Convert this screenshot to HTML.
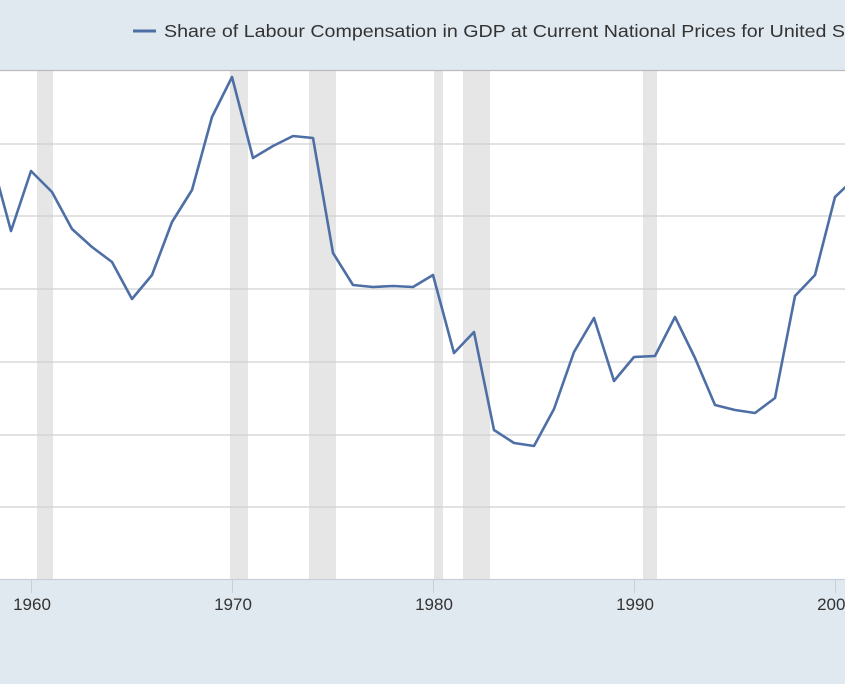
<!DOCTYPE html>
<html><head><style>html,body{margin:0;padding:0;background:#e1e9f0;overflow:hidden}</style></head>
<body>
<svg width="845" height="684" xmlns="http://www.w3.org/2000/svg" style="display:block;font-family:'Liberation Sans',sans-serif">
<rect width="845" height="684" fill="#e1e9f0"/>
<rect x="0" y="70" width="845" height="509" fill="#fff"/>
<g fill="#e6e6e6">
<rect x="37" y="70" width="16" height="509"/>
<rect x="230" y="70" width="18" height="509"/>
<rect x="309" y="70" width="27" height="509"/>
<rect x="434" y="70" width="9" height="509"/>
<rect x="463" y="70" width="27" height="509"/>
<rect x="643" y="70" width="14" height="509"/>
</g>
<g stroke="#d0d0d0" stroke-width="1.3">
<line x1="0" x2="845" y1="70.5" y2="70.5" stroke="#bbb"/>
<line x1="0" x2="845" y1="144" y2="144"/>
<line x1="0" x2="845" y1="216" y2="216"/>
<line x1="0" x2="845" y1="289" y2="289"/>
<line x1="0" x2="845" y1="362" y2="362"/>
<line x1="0" x2="845" y1="435" y2="435"/>
<line x1="0" x2="845" y1="507" y2="507"/>
<line x1="0" x2="845" y1="579.5" y2="579.5" stroke="#c8cfd8"/>
</g>
<g stroke="#c8cfd8" stroke-width="1">
<line x1="31.5" x2="31.5" y1="580" y2="593"/>
<line x1="232.5" x2="232.5" y1="580" y2="593"/>
<line x1="433.5" x2="433.5" y1="580" y2="593"/>
<line x1="634.5" x2="634.5" y1="580" y2="593"/>
<line x1="835.5" x2="835.5" y1="580" y2="593"/>
</g>
<g fill="#333" font-size="17" text-anchor="middle">
<text x="32" y="610">1960</text>
<text x="233" y="610">1970</text>
<text x="434" y="610">1980</text>
<text x="635" y="610">1990</text>
<text x="836" y="610">2000</text>
</g>
<polyline fill="none" stroke="#4e6fa5" stroke-width="2.6" stroke-linejoin="round" points="-9,157 11,231 31,171 52,192 72,229 92,247 112,262 132,299 152,275 172,222 192,190 212,117 232,77 253,158 273,146 293,136 313,138 333,253 353,285 373,287 393,286 413,287 433,275 454,353 474,332 494,430 514,443 534,446 554,409 574,352 594,318 614,381 634,357 655,356 675,317 695,358 715,405 735,410 755,413 775,398 795,296 815,275 835,197 855,178"/>
<line x1="133" x2="156" y1="31" y2="31" stroke="#4e6fa5" stroke-width="3"/>
<text x="164" y="37" font-size="17.5" fill="#333"><tspan textLength="681" lengthAdjust="spacingAndGlyphs">Share of Labour Compensation in GDP at Current National Prices for United S</tspan><tspan>tates</tspan></text>
</svg>
</body></html>
